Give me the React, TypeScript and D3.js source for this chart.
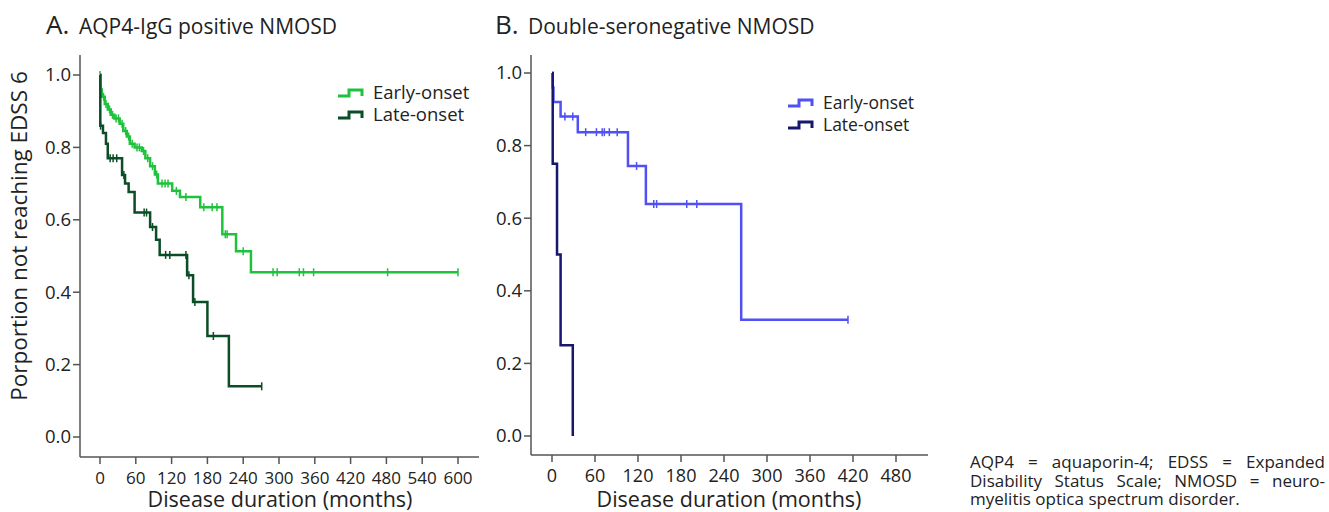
import React, { useEffect, useRef } from 'react';
import * as d3 from 'd3';

// ---- data (months, proportion not reaching EDSS 6) ----
const aEarlyT = [0, 1, 3, 8, 13, 18, 24, 33, 39, 45, 50, 58, 70, 76, 84, 92, 97, 121, 134, 168, 205, 228, 253];
const aEarlyS = [1.0, 0.96, 0.94, 0.92, 0.905, 0.89, 0.88, 0.865, 0.845, 0.83, 0.81, 0.8, 0.79, 0.77, 0.748, 0.725, 0.7, 0.68, 0.663, 0.635, 0.56, 0.513, 0.455];
const aEarlyEnd = 600;
const aEarlyCens = [0, 2, 6, 10, 16, 21, 27, 31, 37, 43, 48, 54, 62, 66, 73, 80, 88, 95, 104, 109, 114, 128, 144, 174, 188, 196, 210, 213, 240, 290, 297, 334, 341, 358, 482, 600];

const aLateT = [0, 0.5, 5, 10, 13, 37, 42, 48, 58, 84, 94, 100, 146, 156, 180, 216];
const aLateS = [1.0, 0.86, 0.84, 0.81, 0.77, 0.724, 0.7, 0.677, 0.62, 0.58, 0.545, 0.503, 0.447, 0.373, 0.279, 0.14];
const aLateEnd = 271;
const aLateCens = [1, 17, 22, 28, 40, 74, 78, 88, 110, 117, 144, 149, 159, 190, 271];

const bEarlyT = [0, 1, 2, 12, 36, 106, 131, 264];
const bEarlyS = [1.0, 0.96, 0.92, 0.88, 0.837, 0.744, 0.639, 0.32];
const bEarlyEnd = 413;
const bEarlyCens = [1.5, 18, 29, 47, 62, 70, 73, 80, 91, 118, 142, 146, 188, 202, 413];

const bLateT = [0, 1, 7, 12, 29];
const bLateS = [1.0, 0.75, 0.5, 0.25, 0.0];
const bLateEnd = 29;
const bLateCens: number[] = [];

const yTicks = [0, 0.2, 0.4, 0.6, 0.8, 1.0];
const aXTicks = [0, 60, 120, 180, 240, 300, 360, 420, 480, 540, 600];
const bXTicks = [0, 60, 120, 180, 240, 300, 360, 420, 480];
const legendLabels = ['Early-onset', 'Late-onset'];

const captionLines = [
  'AQP4 = aquaporin-4; EDSS = Expanded',
  'Disability Status Scale; NMOSD = neuro-',
  'myelitis optica spectrum disorder.',
];

const FONT = '"Open Sans", "Noto Sans", sans-serif';
const AXIS = '#555';
const TXT = '#222';
const CAP_X = 970;
const CAP_W = 355;

type Series = { t: number[]; s: number[]; end: number; cens: number[]; color: string };

const Panel = ({ cfg }: { cfg: any }) => {
  const x = d3.scaleLinear().domain([0, cfg.xMax]).range([cfg.x0, cfg.x1]);
  const y = d3.scaleLinear().domain([0, 1]).range([cfg.y0, cfg.y1]);
  const line = d3.line<[number, number]>().x(d => x(d[0])).y(d => y(d[1])).curve(d3.curveStepAfter);
  const valueAt = (sr: Series, t: number) => {
    let v = sr.s[0];
    sr.t.forEach((tt, i) => { if (tt <= t) v = sr.s[i]; });
    return v;
  };
  return (
    <g fontFamily={FONT}>
      {/* title */}
      <text x={cfg.titleX} y={34} fill={TXT} fontSize={26}>{cfg.letter}</text>
      <text x={cfg.titleX + 33} y={34} fill={TXT} fontSize={21}>{cfg.title}</text>

      {/* axes */}
      <line x1={cfg.axisX} x2={cfg.axisX} y1={55} y2={cfg.axisY} stroke={AXIS} strokeWidth={1.5} />
      <line x1={cfg.axisX} x2={cfg.axisRight} y1={cfg.axisY} y2={cfg.axisY} stroke={AXIS} strokeWidth={1.5} />
      {yTicks.map(t => (
        <g key={t}>
          <line x1={cfg.axisX - 7} x2={cfg.axisX} y1={y(t)} y2={y(t)} stroke={AXIS} strokeWidth={1.5} />
          <text x={cfg.axisX - 9} y={y(t)} dy="0.35em" textAnchor="end" fontSize={18.5} fill={TXT}>{t.toFixed(1)}</text>
        </g>
      ))}
      {cfg.xTicks.map((t: number) => (
        <g key={t}>
          <line x1={x(t)} x2={x(t)} y1={cfg.axisY} y2={cfg.axisY + 7} stroke={AXIS} strokeWidth={1.5} />
          <text x={x(t)} y={cfg.axisY + 27} textAnchor="middle" fontSize={cfg.xTickFont} fill={TXT}>{t}</text>
        </g>
      ))}
      <text x={cfg.xTitleX} y={507} textAnchor="middle" fontSize={21.5} fill={TXT}>Disease duration (months)</text>

      {/* curves */}
      {cfg.series.map((sr: Series, i: number) => {
        const pts: [number, number][] = sr.t.map((t, j) => [t, sr.s[j]] as [number, number]);
        pts.push([sr.end, sr.s[sr.s.length - 1]]);
        return (
          <g key={i}>
            <path d={line(pts) || ''} fill="none" stroke={sr.color} strokeWidth={2.5} />
            {sr.cens.map((c, k) => (
              <line key={k} x1={x(c)} x2={x(c)} y1={y(valueAt(sr, c)) - 4} y2={y(valueAt(sr, c)) + 4}
                stroke={sr.color} strokeWidth={1.5} />
            ))}
          </g>
        );
      })}

      {/* legend */}
      {cfg.series.map((sr: Series, i: number) => {
        const ly = cfg.legY + i * 22;
        const lx = cfg.legX;
        return (
          <g key={'l' + i}>
            <path d={`M${lx},${ly + 3} H${lx + 11} V${ly - 3} H${lx + 24} V${ly + 3}`} fill="none" stroke={sr.color} strokeWidth={3} />
            <text x={lx + 35} y={ly} dy="0.35em" fontSize={cfg.legFont} fill={TXT}>{legendLabels[i]}</text>
          </g>
        );
      })}
    </g>
  );
};

const panelA = {
  letter: 'A.', title: 'AQP4-IgG positive NMOSD', titleX: 46,
  xMax: 600, x0: 100, x1: 458, y0: 437, y1: 75,
  axisX: 80, axisY: 457, axisRight: 479, xTicks: aXTicks, xTickFont: 17, xTitleX: 280,
  legX: 338, legY: 93, legFont: 18.5,
  series: [
    { t: aEarlyT, s: aEarlyS, end: aEarlyEnd, cens: aEarlyCens, color: '#1ec23c' },
    { t: aLateT, s: aLateS, end: aLateEnd, cens: aLateCens, color: '#0b4d25' },
  ],
};

const panelB = {
  letter: 'B.', title: 'Double-seronegative NMOSD', titleX: 495,
  xMax: 480, x0: 552, x1: 896, y0: 436, y1: 73,
  axisX: 531, axisY: 455, axisRight: 928, xTicks: bXTicks, xTickFont: 18, xTitleX: 729,
  legX: 788, legY: 103, legFont: 17.5,
  series: [
    { t: bEarlyT, s: bEarlyS, end: bEarlyEnd, cens: bEarlyCens, color: '#5050f5' },
    { t: bLateT, s: bLateS, end: bLateEnd, cens: bLateCens, color: '#17176e' },
  ],
};

export default function App() {
  const capRef = useRef<SVGGElement>(null);

  // lay out caption words: justify every line but the last
  useEffect(() => {
    if (!capRef.current) return;
    const g = d3.select(capRef.current);
    captionLines.forEach((_, li) => {
      const words = g.selectAll<SVGTextElement, unknown>(`text.w${li}`).nodes();
      const widths = words.map(w => w.getComputedTextLength());
      const total = d3.sum(widths);
      const gap = li < captionLines.length - 1 && words.length > 1 ? (CAP_W - total) / (words.length - 1) : 4.5;
      let cx = CAP_X;
      words.forEach((w, k) => {
        d3.select(w).attr('x', cx);
        cx += widths[k] + gap;
      });
    });
  }, []);

  return (
    <svg width={1329} height={512} style={{ position: 'absolute', left: 0, top: 0, background: '#fff' }}>
      <Panel cfg={panelA} />
      <Panel cfg={panelB} />
      <text transform="translate(27,236) rotate(-90)" textAnchor="middle" fontFamily={FONT} fontSize={22.5} fill={TXT}>
        Porportion not reaching EDSS 6
      </text>
      <g ref={capRef} fontFamily={FONT} fontSize={17} fill={TXT}>
        {captionLines.map((l, i) =>
          l.split(' ').map((w, k) => (
            <text key={i + '-' + k} className={'w' + i} x={CAP_X + k * 40} y={468 + i * 18.5}>{w}</text>
          ))
        )}
      </g>
    </svg>
  );
}
